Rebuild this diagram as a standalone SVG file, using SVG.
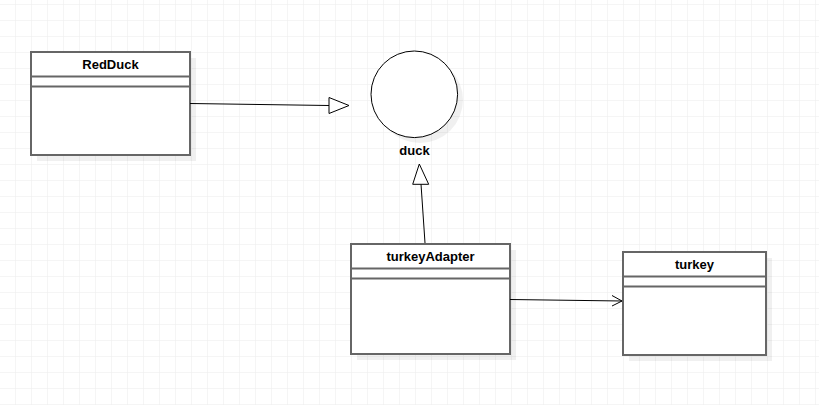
<svg xmlns="http://www.w3.org/2000/svg" width="819" height="405" viewBox="0 0 819 405">
<defs>
<pattern id="grid" x="15" y="4" width="16" height="16" patternUnits="userSpaceOnUse">
<path d="M0 0H16M0 0V16" fill="none" stroke="#ebebeb" stroke-width="1"/>
</pattern>
<style>
.box{fill:#fff;stroke:#666;stroke-width:2}
.sep{stroke:#666;stroke-width:2;fill:none}
.shadow{fill:#000;fill-opacity:0.06}
.title{font-family:"Liberation Sans",Arial,sans-serif;font-size:13px;font-weight:bold;fill:#000;text-anchor:middle}
.edge{stroke:#000;stroke-width:1;fill:none}
.tri{fill:#fff;stroke:#000;stroke-width:1}
</style>
</defs>
<rect width="819" height="405" fill="#fff"/>
<rect width="819" height="405" fill="url(#grid)"/>
<g id="RedDuck">
<rect class="shadow" x="37" y="58" width="159" height="103"/>
<rect class="box" x="31" y="52" width="159" height="103"/>
<line class="sep" x1="31" y1="76.5" x2="190" y2="76.5"/>
<line class="sep" x1="31" y1="86.5" x2="190" y2="86.5"/>
<text class="title" x="110.5" y="69">RedDuck</text>
</g>
<g id="duck">
<circle class="shadow" cx="420" cy="100" r="43"/>
<circle cx="414.3" cy="94.3" r="43.3" fill="#fff" stroke="#000" stroke-width="1"/>
<text class="title" x="414.5" y="155">duck</text>
</g>
<g id="turkeyAdapter">
<rect class="shadow" x="357" y="250" width="159" height="110"/>
<rect class="box" x="351" y="244" width="159" height="110"/>
<line class="sep" x1="351" y1="268.5" x2="510" y2="268.5"/>
<line class="sep" x1="351" y1="278.5" x2="510" y2="278.5"/>
<text class="title" x="430.5" y="261">turkeyAdapter</text>
</g>
<g id="turkey">
<rect class="shadow" x="629" y="258" width="143" height="103"/>
<rect class="box" x="623" y="252" width="143" height="103"/>
<line class="sep" x1="623" y1="276.5" x2="766" y2="276.5"/>
<line class="sep" x1="623" y1="286.5" x2="766" y2="286.5"/>
<text class="title" x="694.5" y="269">turkey</text>
</g>
<g id="connectors">
<line class="edge" x1="190" y1="103.5" x2="329" y2="105.5"/>
<polygon class="tri" points="329,97.5 349,105.5 329,113.5"/>
<line class="edge" x1="425" y1="243" x2="421" y2="184"/>
<polygon class="tri" points="412.7,184.3 419.3,164 428.7,184.3"/>
<line class="edge" x1="510" y1="299.5" x2="622" y2="301"/>
<polyline class="edge" points="612,295.5 622,301 612,306"/>
</g>
</svg>
